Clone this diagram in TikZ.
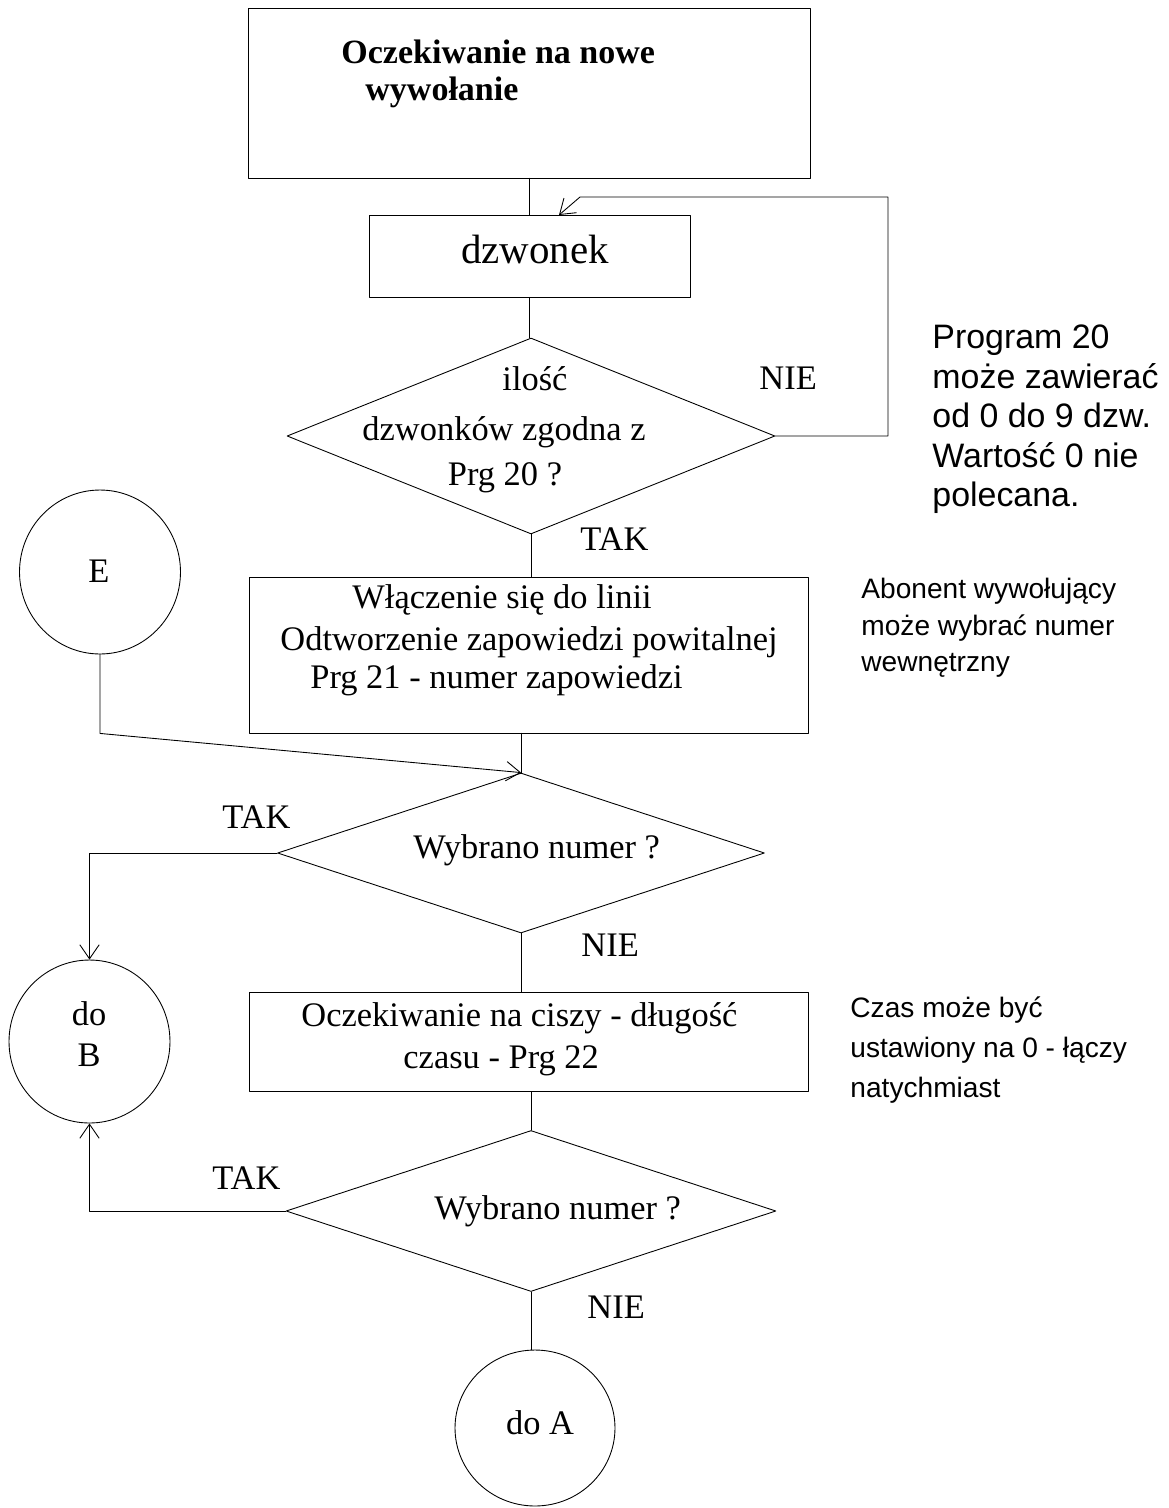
\documentclass[tikz,border=0pt]{standalone}
\usepackage{fontspec}
\setmainfont{Liberation Serif}
\newfontfamily\notefont{Liberation Sans}
\usepackage{tikz}
\usetikzlibrary{arrows.meta,shapes.geometric}

\tikzset{
  blok/.style={draw,rectangle,inner sep=0pt},
  decyzja/.style={draw,diamond,inner sep=0pt},
  lacznik/.style={draw,ellipse,inner sep=0pt},
  napis/.style={inner sep=0pt,font=\fontsize{19.6}{23}\selectfont},
  uwaga/.style={inner sep=0pt,anchor=base west,font=\notefont\fontsize{19.3}{22}\selectfont},
  uwagamala/.style={inner sep=0pt,anchor=base west,font=\notefont\fontsize{16}{18}\selectfont},
}

\begin{document}
\begin{tikzpicture}[line cap=round,line join=round,>={Straight Barb[length=8pt,width=11pt]},x=0.02cm,y=-0.02cm,line width=0.5pt]
\useasboundingbox (0,0) rectangle (1169,1508);
% bloki
\node[blok,minimum width=11.24cm,minimum height=3.4cm] (start) at (529,93) {};
\node[blok,minimum width=6.42cm,minimum height=1.64cm] (dzw) at (529.5,256) {};
\node[decyzja,minimum width=9.76cm,minimum height=3.92cm] (ilosc) at (531,436) {};
\node[blok,minimum width=11.18cm,minimum height=3.12cm] (wlacz) at (528.5,655) {};
\node[decyzja,minimum width=9.74cm,minimum height=3.2cm] (wybor1) at (521,853) {};
\node[blok,minimum width=11.18cm,minimum height=1.98cm] (cisza) at (528.5,1041.5) {};
\node[decyzja,minimum width=9.8cm,minimum height=3.22cm] (wybor2) at (531,1211) {};
\node[lacznik,minimum width=3.22cm,minimum height=3.28cm] (polE) at (100,572) {};
\node[lacznik,minimum width=3.22cm,minimum height=3.26cm] (doB) at (89.5,1041.5) {};
\node[lacznik,minimum width=3.2cm,minimum height=3.12cm] (doA) at (535,1428) {};
\coordinate (dzwIn) at (559,215);
\coordinate (petla) at (888,197);
\coordinate (petlaL) at (580,197);
% polaczenia
\draw (start.south) -- (start.south |- dzw.north);
\draw (dzw.south) -- (dzw.south |- ilosc.north);
\draw[->] (ilosc.east) -| (petla) -- (petlaL) -- (dzwIn);
\draw (ilosc.south) -- (ilosc.south |- wlacz.north);
\draw (wybor1.north |- wlacz.south) -- (wybor1.north);
\draw[->] (polE.south) -- (polE.south |- wlacz.south) -- (wybor1.north);
\draw[->] (wybor1.west) -| (doB.north);
\draw (wybor1.south) -- (wybor1.south |- cisza.north);
\draw (wybor2.north |- cisza.south) -- (wybor2.north);
\draw[->] (wybor2.west) -| (doB.south);
\draw (wybor2.south) -- (wybor2.south |- doA.north);
% teksty
\node[napis,anchor=base west,font=\bfseries\fontsize{19.35}{23}\selectfont] (t1) at (341,63) {Oczekiwanie na nowe};
\node[napis,anchor=base west,font=\bfseries\fontsize{19.35}{23}\selectfont] (t2) at (365,100) {wywołanie};
\node[napis,anchor=base,font=\fontsize{23.3}{28}\selectfont] (t3) at (535,263) {dzwonek};
\node[napis,anchor=base] (t4) at (535,390) {ilość};
\node[napis,anchor=base] (t5) at (504,440) {dzwonków zgodna z};
\node[napis,anchor=base] (t6) at (505,485) {Prg 20 ?};
\node[napis,anchor=base west] (nie1) at (759,389) {NIE};
\node[napis,anchor=base west] (tak1) at (580,550) {TAK};
\node[napis,anchor=base] (t7) at (99,582) {E};
\node[napis,anchor=base west] (t8) at (352,608) {Włączenie się do linii};
\node[napis,anchor=base west] (t9) at (280,650) {Odtworzenie zapowiedzi powitalnej};
\node[napis,anchor=base west] (t10) at (310,688) {Prg 21 - numer zapowiedzi};
\node[napis,anchor=base west] (tak2) at (222,828) {TAK};
\node[napis,anchor=base west] (t11) at (413,858) {Wybrano numer ?};
\node[napis,anchor=base west] (nie2) at (581,956) {NIE};
\node[napis,anchor=base] (t12) at (89,1025) {do};
\node[napis,anchor=base] (t13) at (89,1066) {B};
\node[napis,anchor=base west] (t14) at (301,1026) {Oczekiwanie na ciszy - długość};
\node[napis,anchor=base west] (t15) at (403,1068) {czasu - Prg 22};
\node[napis,anchor=base west] (tak3) at (212,1189) {TAK};
\node[napis,anchor=base west] (t16) at (434,1219) {Wybrano numer ?};
\node[napis,anchor=base west] (nie3) at (587,1318) {NIE};
\node[napis,anchor=base] (t17) at (540,1434) {do A};
% uwagi z prawej
\node[uwaga] (u1) at (932,348) {Program 20};
\node[uwaga] (u2) at (932,388) {może zawierać};
\node[uwaga] (u3) at (932,427) {od 0 do 9 dzw.};
\node[uwaga] (u4) at (932,467) {Wartość 0 nie};
\node[uwaga] (u5) at (932,506) {polecana.};
\node[uwagamala] (u6) at (861,598) {Abonent wywołujący};
\node[uwagamala] (u7) at (861,635) {może wybrać numer};
\node[uwagamala] (u8) at (861,671) {wewnętrzny};
\node[uwagamala] (u9) at (850,1017) {Czas może być};
\node[uwagamala] (u10) at (850,1057) {ustawiony na 0 - łączy};
\node[uwagamala] (u11) at (850,1097) {natychmiast};
\end{tikzpicture}
\end{document}
